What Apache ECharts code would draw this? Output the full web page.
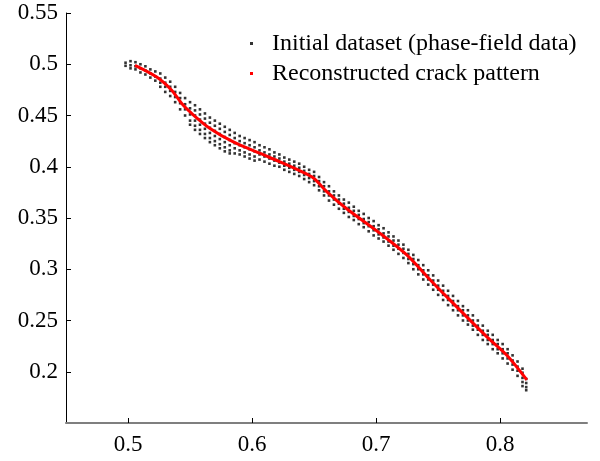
<!DOCTYPE html>
<html>
<head>
<meta charset="utf-8">
<script src="https://cdn.jsdelivr.net/npm/echarts@6/dist/echarts.min.js"></script>
<style>html,body{margin:0;padding:0;background:#fff;}#c{width:600px;height:461px;}</style>
</head>
<body>
<div id="c"></div>
<script>
// Tick values
const xTicks = [0.5, 0.6, 0.7, 0.8];
const yTicks = [0.2, 0.25, 0.3, 0.35, 0.4, 0.45, 0.5, 0.55];

// Initial dataset (phase-field data): columns of points, x and the y values in each column
const blackX = [0.498,0.502,0.506,0.510,0.514,0.518,0.522,0.526,0.530,0.534,0.538,0.542,0.546,0.550,
0.554,0.558,0.562,0.566,0.570,0.574,0.578,0.582,0.586,0.590,0.594,0.598,0.602,
0.606,0.610,0.614,0.618,0.622,0.626,0.630,0.634,0.638,0.642,0.646,
0.650,0.654,0.658,0.662,0.666,0.670,0.674,0.678,0.682,0.686,0.690,0.694,0.698,0.702,0.706,0.710,
0.714,0.718,0.722,0.726,0.730,0.734,0.738,0.742,0.746,0.750,0.754,0.758,0.762,0.766,0.770,0.774,
0.778,0.782,0.786,0.790,0.794,0.798,0.802,0.806,0.810,0.814,0.818,0.821];
const blackY = [
[0.5015,0.4985],[0.503,0.499,0.496],[0.502,0.498,0.495],[0.500,0.496,0.492],[0.498,0.494,0.490],
[0.495,0.491,0.487],[0.493,0.488,0.484],
[0.491,0.486,0.482,0.478],[0.487,0.482,0.478,0.473],[0.483,0.478,0.474,0.469],[0.478,0.473,0.468,0.463],
[0.472,0.467,0.462,0.456],[0.467,0.461,0.456,0.450],[0.463,0.457,0.451,0.445,0.441],
[0.460,0.455,0.450,0.445,0.440,0.436],[0.456,0.451,0.446,0.441,0.436,0.432],[0.452,0.447,0.442,0.437,0.432,0.428],
[0.448,0.443,0.438,0.433,0.428,0.424],[0.445,0.440,0.435,0.430,0.425,0.421],[0.442,0.437,0.432,0.427,0.422,0.418],
[0.439,0.434,0.429,0.424,0.419,0.415],[0.436,0.431,0.426,0.421,0.416,0.413],
[0.433,0.428,0.423,0.418,0.413],[0.430,0.425,0.421,0.416,0.412],[0.428,0.423,0.419,0.414,0.410],
[0.426,0.421,0.417,0.412,0.408],[0.424,0.419,0.415,0.410,0.406],
[0.421,0.416,0.412,0.407],[0.419,0.414,0.410,0.405],[0.417,0.412,0.408,0.403],[0.414,0.410,0.406,0.401],
[0.412,0.408,0.404,0.400],[0.409,0.405,0.401,0.397],[0.407,0.403,0.399,0.395],[0.405,0.401,0.397,0.393],
[0.403,0.399,0.395,0.391],[0.400,0.396,0.392,0.388],[0.397,0.393,0.389,0.385],
[0.395,0.391,0.386,0.382],[0.390,0.386,0.381,0.377],[0.385,0.381,0.376,0.372],[0.381,0.376,0.372,0.367],
[0.376,0.372,0.368,0.363],[0.372,0.368,0.364,0.359],[0.368,0.364,0.359,0.355],[0.365,0.360,0.356,0.351],
[0.361,0.357,0.352,0.348],[0.357,0.353,0.349,0.344],[0.354,0.349,0.345,0.341],[0.350,0.346,0.342,0.337],
[0.347,0.342,0.338,0.333],[0.343,0.339,0.334,0.330],[0.340,0.335,0.331,0.327],[0.336,0.332,0.327,0.323],
[0.332,0.328,0.323,0.319],[0.328,0.324,0.320,0.315],[0.324,0.320,0.316,0.311],[0.319,0.315,0.310,0.306],
[0.314,0.310,0.305,0.300],[0.309,0.304,0.300,0.295],[0.304,0.299,0.295,0.290],[0.299,0.294,0.290,0.285],
[0.294,0.289,0.285,0.280],[0.289,0.284,0.280,0.275],[0.284,0.279,0.275,0.270],[0.279,0.274,0.270,0.265],
[0.274,0.269,0.265,0.260],[0.269,0.264,0.260,0.255],[0.264,0.260,0.255,0.250],[0.260,0.255,0.250,0.246],
[0.255,0.250,0.245,0.241],[0.250,0.245,0.241,0.236],[0.245,0.240,0.236,0.231],[0.240,0.236,0.231,0.227],
[0.236,0.231,0.227,0.222],[0.231,0.227,0.222,0.218],[0.227,0.222,0.218,0.213],[0.222,0.218,0.213,0.208],
[0.216,0.211,0.207,0.202],[0.210,0.205,0.201,0.196],[0.203,0.199,0.194,0.190,0.186],[0.193,0.189,0.185,0.182]
];

// Reconstructed crack pattern
const redX = [0.5056,0.5231,0.5352,0.5433,0.5513,0.5661,0.5849,0.6065,0.6226,0.6387,0.6495,0.6600,0.6763,0.7032,0.7247,0.7410,0.7570,0.7893,0.8054,0.8215];
const redY = [0.4990,0.4876,0.4747,0.4617,0.4520,0.4373,0.4242,0.4130,0.4048,0.3960,0.3890,0.3760,0.3590,0.3350,0.3140,0.2930,0.2730,0.2340,0.2160,0.1920];

const nameBlack = 'Initial dataset (phase-field data)';
const nameRed = 'Reconstructed crack pattern';

const blackData = [];
blackX.forEach((x, i) => blackY[i].forEach(y => blackData.push([x, y])));
const redData = redX.map((x, i) => [x, redY[i]]);

const font = "'Liberation Serif', 'Times New Roman', 'DejaVu Serif', serif";
const chart = echarts.init(document.getElementById('c'), null, {renderer: 'canvas'});
chart.setOption({
  animation: false,
  backgroundColor: '#fff',
  textStyle: {fontFamily: font},
  grid: {left: 66, top: 13, right: 13, bottom: 38, containLabel: false},
  legend: {
    orient: 'vertical', left: 245, top: 26.5, itemGap: 6,
    itemWidth: 3, itemHeight: 3,
    textStyle: {fontFamily: font, fontSize: 24, color: '#000', lineHeight: 24, padding: [0, 0, 0, 14]},
    data: [{name: nameBlack, icon: 'rect'}, {name: nameRed, icon: 'rect'}]
  },
  xAxis: {
    type: 'value', min: 0.45, max: 0.87,
    axisLine: {show: true, lineStyle: {color: '#7f7f7f', width: 2}},
    axisTick: {show: true, inside: true, length: 5, lineStyle: {color: '#000', width: 1}, customValues: xTicks},
    axisLabel: {fontFamily: font, fontSize: 23, color: '#000', margin: 10, customValues: xTicks},
    splitLine: {show: false}
  },
  yAxis: {
    type: 'value', min: 0.15, max: 0.55,
    axisLine: {show: true, lineStyle: {color: '#000', width: 1}},
    axisTick: {show: true, inside: true, length: 5, lineStyle: {color: '#000', width: 1}, customValues: yTicks},
    axisLabel: {fontFamily: font, fontSize: 23, color: '#000', margin: 8, customValues: yTicks},
    splitLine: {show: false}
  },
  series: [
    {name: nameBlack, type: 'scatter', data: blackData, symbol: 'rect', symbolSize: 2.6,
     itemStyle: {color: '#000'}, z: 2},
    {name: nameRed, type: 'line', data: redData, smooth: 0.3, showSymbol: false, symbol: 'none',
     lineStyle: {color: '#ff0000', width: 3}, itemStyle: {color: '#ff0000'}, z: 3}
  ]
});
</script>
</body>
</html>
